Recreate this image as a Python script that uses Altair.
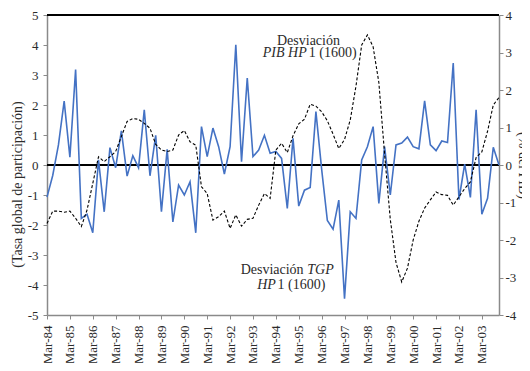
import altair as alt
import pandas as pd

# Quarterly periods Mar-84 ... Dec-03 (index 0..79)
tgp_dev = [-1.07, -0.35, 0.67, 2.13, 0.26, 3.18, -1.78, -1.64, -2.26, 0.17,
           -1.56, 0.58, -0.09, 1.14, -0.37, 0.31, -0.09, 1.84, -0.36, 0.99,
           -1.56, 0.52, -1.90, -0.67, -1.00, -0.56, -2.26, 1.28, 0.28, 1.23,
           0.61, -0.30, 0.61, 4.01, 0.11, 2.90, 0.28, 0.50, 0.99, 0.39,
           0.45, 0.22, -1.45, 0.89, -1.37, -0.84, -0.75, 1.78, -0.14, -1.85,
           -2.14, -1.17, -4.46, -1.56, -1.78, 0.17, 0.61, 1.28, -1.28, 0.61,
           -1.00, 0.67, 0.73, 0.93, 0.61, 0.54, 2.14, 0.67, 0.48, 0.80,
           0.75, 3.40, -1.15, 0.03, -1.08, 1.84, -1.64, -1.11, 0.59, 0.00]

pib_dev = [-1.56, -1.23, -1.23, -1.26, -1.23, -1.42, -1.64, -1.20, -0.49, 0.22,
           0.09, 0.22, 0.36, 0.76, 1.16, 1.24, 1.22, 1.11, 0.98, 0.55,
           0.40, 0.36, 0.40, 0.80, 0.92, 0.62, 0.53, -0.58, -0.76, -1.47,
           -1.38, -1.23, -1.69, -1.33, -1.63, -1.45, -1.42, -1.07, -0.76, -0.89,
           0.40, 0.58, 0.33, 0.78, 1.10, 1.22, 1.62, 1.57, 1.42, 1.18,
           0.82, 0.44, 0.68, 1.20, 2.10, 3.20, 3.47, 3.15, 2.20, 0.30,
           -1.45, -2.60, -3.12, -2.75, -2.00, -1.50, -1.15, -0.93, -0.72, -0.79,
           -0.81, -1.07, -0.85, -0.63, -0.45, 0.20, 0.35, 0.90, 1.60, 1.80]

tick_labels = ["Mar-84", "Mar-85", "Mar-86", "Mar-87", "Mar-88", "Mar-89",
               "Mar-90", "Mar-91", "Mar-92", "Mar-93", "Mar-94", "Mar-95",
               "Mar-96", "Mar-97", "Mar-98", "Mar-99", "Mar-00", "Mar-01",
               "Mar-02", "Mar-03"]
tick_positions = [4 * i for i in range(len(tick_labels))]

left_ticks = [-5, -4, -3, -2, -1, 0, 1, 2, 3, 4, 5]
right_ticks = [-4, -3, -2, -1, 0, 1, 2, 3, 4]

df = pd.DataFrame({"t": list(range(len(tgp_dev))), "tgp": tgp_dev, "pib": pib_dev})

FONT = "Liberation Serif, DejaVu Serif, serif"
TXT = "#2b2b2b"
GRAY = "#8a8a8a"

label_array = "[" + ",".join("'" + s + "'" for s in tick_labels) + "]"

x_axis = alt.Axis(values=tick_positions, labelExpr=label_array + "[round(datum.value / 4)]",
                  labelAngle=270, labelAlign="right", labelBaseline="middle",
                  labelFont=FONT, labelFontSize=13, labelColor=TXT, labelPadding=6,
                  tickSize=4, tickColor=GRAY, domainColor=GRAY, domainWidth=1.5,
                  grid=False, title=None, labelOverlap=False)
x_scale = alt.Scale(domain=[0, 79], nice=False, zero=False)
x_enc = alt.X("t:Q", scale=x_scale, axis=x_axis)

left_scale = alt.Scale(domain=[-5, 5], nice=False)
left_axis = alt.Axis(values=left_ticks, labelExpr="'' + datum.value",
                     labelFont=FONT, labelFontSize=13, labelColor=TXT, labelPadding=5,
                     tickSize=4, tickColor=GRAY, domainColor=GRAY, domainWidth=1.5,
                     grid=False, title="(Tasa global de participación)",
                     titleFont=FONT, titleFontSize=14, titleFontWeight="normal",
                     titleColor=TXT, titleAngle=270, titleAlign="center",
                     titleBaseline="middle", titleX=-30, titleY=169)

right_scale = alt.Scale(domain=[-4, 4], nice=False)
right_axis = alt.Axis(orient="right", values=right_ticks, labelExpr="'' + datum.value",
                      labelFont=FONT, labelFontSize=13, labelColor=TXT, labelPadding=2,
                      tickSize=4, tickColor=GRAY, domainColor=GRAY, domainWidth=1.5,
                      grid=False, title="(% del PIB)",
                      titleFont=FONT, titleFontSize=14, titleFontWeight="normal",
                      titleColor=TXT, titleAngle=90, titleAlign="center",
                      titleBaseline="bottom", titleX=16, titleY=150)

base = alt.Chart(df)

zero_rule = base.mark_rule(color="black", strokeWidth=1.3).encode(
    y=alt.Y(datum=0, scale=left_scale, axis=left_axis))
top_rule = base.mark_rule(color="black", strokeWidth=1.2).encode(
    y=alt.Y(datum=5, scale=left_scale, axis=left_axis))

blue = base.mark_line(color="#4472C4", strokeWidth=1.6).encode(
    x=x_enc, y=alt.Y("tgp:Q", scale=left_scale, axis=left_axis))

# annotations: (text, t, value, italic, align)
ann_text = ["Desviación", "PIB HP", "1 (1600)", "Desviación", "TGP", "HP", "1 (1600)"]
ann_t = [45.7, 45.4, 45.75, 44.85, 45.5, 40.0, 40.3]
ann_v = [4.15, 3.72, 3.72, -3.5, -3.5, -4.0, -4.0]
ann_italic = [False, True, False, False, True, True, False]
ann_align = ["center", "right", "left", "right", "left", "right", "left"]

texts = []
for s, tt, vv, it, al in zip(ann_text, ann_t, ann_v, ann_italic, ann_align):
    texts.append(
        alt.Chart(pd.DataFrame({"t": [tt], "v": [vv], "s": [s]})).mark_text(
            font=FONT, fontSize=14, color=TXT, align=al, baseline="middle",
            fontStyle="italic" if it else "normal"
        ).encode(x=x_enc, y=alt.Y("v:Q", scale=left_scale, axis=left_axis), text="s:N")
    )

left_layer = alt.layer(zero_rule, top_rule, blue, *texts)

dashed = base.mark_line(color="black", strokeWidth=1.1, strokeDash=[3, 2]).encode(
    x=x_enc, y=alt.Y("pib:Q", scale=right_scale, axis=right_axis))

chart = alt.layer(left_layer, dashed).resolve_scale(y="independent").properties(
    width=452, height=300,
    autosize=alt.AutoSizeParams(type="none"),
    padding={"left": 39, "top": 7, "right": 23, "bottom": 48},
).configure_view(stroke=None)

chart.save("out.html", embed_options={"renderer": "svg", "actions": False})
